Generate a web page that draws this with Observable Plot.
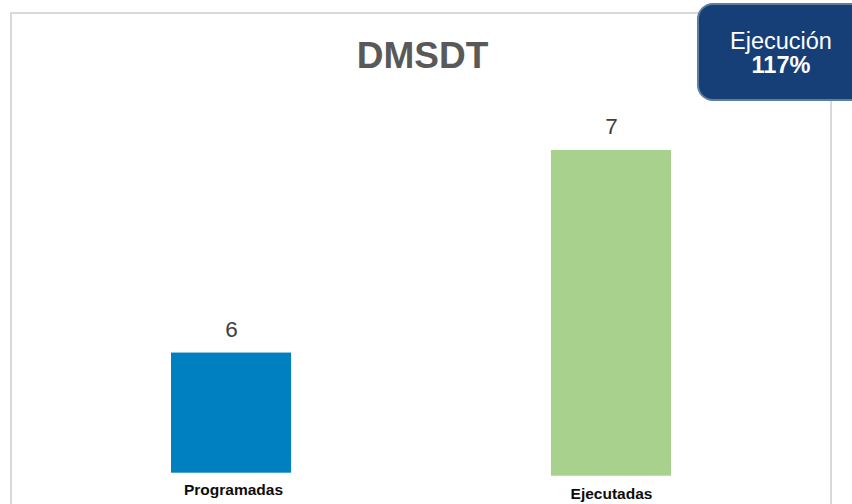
<!DOCTYPE html>
<html>
<head>
<meta charset="utf-8">
<script src="https://cdn.jsdelivr.net/npm/d3@7"></script>
<script src="https://cdn.jsdelivr.net/npm/@observablehq/plot@0.6"></script>
<style>
  html, body { margin: 0; padding: 0; background: #fff; }
  #wrap { position: relative; width: 852px; height: 504px; overflow: hidden; background: #fff;
          font-family: "Liberation Sans", Arial, sans-serif; }
  #frame { position: absolute; left: 10px; top: 12px; width: 818px; height: 600px;
           border: 2px solid #d9d9d9; }
  #chart { position: absolute; left: 0; top: 0; }
  #badge { position: absolute; left: 697px; top: 3px; width: 200px; height: 94px;
           background: #163F77; border: 2px solid #5f7d9c; border-radius: 16px; }
  .bt { position: absolute; left: 681px; width: 200px; text-align: center; color: #fff;
        font-size: 23.5px; line-height: 23.5px; white-space: nowrap; }
</style>
</head>
<body>
<div id="wrap">
  <div id="frame"></div>
  <div id="chart"></div>
  <div id="badge"></div>
  <div class="bt" id="b1" style="top:30px;"></div>
  <div class="bt" id="b2" style="top:54px;font-weight:bold;"></div>
</div>
<script>
// ---- data ----
const title = "DMSDT";
const categories = ["Programadas", "Ejecutadas"];
const values = [6, 7];
const badgeLabel = "Ejecución";
const badgeValue = "117%";

const colors = ["#0080C0", "#A9D18E"];
const data = categories.map((c, i) => ({cat: c, value: values[i]}));
const yMin = 5.392;

const plot = Plot.plot({
  width: 852,
  height: 504,
  marginTop: 0, marginBottom: 0, marginLeft: 0, marginRight: 0,
  style: {background: "transparent", fontFamily: "'Liberation Sans', Arial, sans-serif"},
  x: {domain: categories, range: [171, 671], paddingInner: 0.684, paddingOuter: 0, round: false, axis: null},
  y: {domain: [yMin, 7], range: [475.7, 150], axis: null},
  marks: [
    Plot.text([title], {frameAnchor: "top", lineAnchor: "top", dx: -4, dy: 41.5,
      fontSize: 37, fontWeight: "bold", fill: "#595959"}),
    // first bar (sits slightly higher in the reference)
    Plot.barY(data.filter(d => d.cat === categories[0]),
      {x: "cat", y1: () => yMin, y2: "value", fill: colors[0], insetBottom: 3}),
    Plot.barY(data.filter(d => d.cat === categories[1]),
      {x: "cat", y1: () => yMin, y2: "value", fill: colors[1]}),
    Plot.text(data, {x: "cat", y: "value", text: d => String(d.value), dx: 0, dy: -23.5,
      fontSize: 22.5, fill: "#404040"}),
    Plot.text(data.filter(d => d.cat === categories[0]),
      {x: "cat", y: () => yMin, text: "cat", dx: 2, dy: 13.6, fontSize: 15.5, fontWeight: "bold", fill: "#0d0d0d"}),
    Plot.text(data.filter(d => d.cat === categories[1]),
      {x: "cat", y: () => yMin, text: "cat", dx: 0, dy: 17.6, fontSize: 15.5, fontWeight: "bold", fill: "#0d0d0d"})
  ]
});
document.getElementById("chart").appendChild(plot);
document.getElementById("b1").textContent = badgeLabel;
document.getElementById("b2").textContent = badgeValue;
</script>
</body>
</html>
